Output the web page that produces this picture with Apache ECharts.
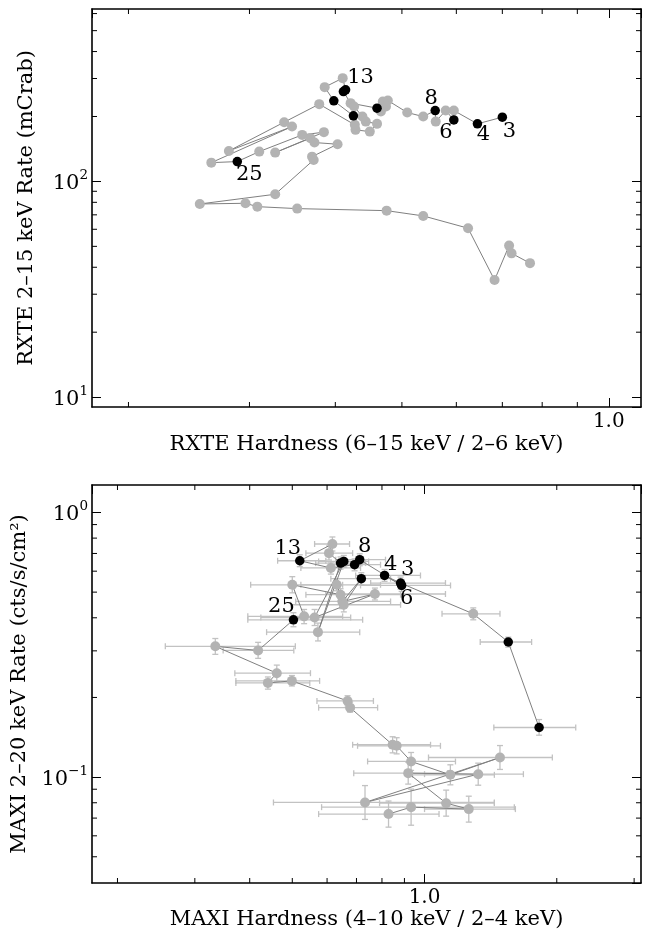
<!DOCTYPE html>
<html><head><meta charset="utf-8">
<script src="https://cdn.jsdelivr.net/npm/echarts@6/dist/echarts.min.js"></script>
<style>html,body{margin:0;padding:0;background:#fff}#c{width:645px;height:932px}</style>
</head><body><div id="c"></div>
<script>
// ---------- RXTE panel (top) ----------
const rxteHardness = [0.700,0.644,0.595,0.595,0.579,0.560,0.559,0.537,0.509,0.477,0.469,0.474,0.466,0.460,0.421,0.411,0.414,0.410,0.386,0.398,0.425,0.426,0.438,0.443,0.460,0.449,0.428,0.427,0.379,0.337,0.280,0.346,0.264,0.288,0.310,0.358,0.385,0.327,0.368,0.373,0.403,0.370,0.372,0.327,0.254,0.296,0.308,0.352,0.475,0.537,0.624,0.682,0.716,0.722,0.768];
const rxteRate = [198.6,184.9,213.1,192.9,213.1,189.4,213.1,199.8,208.6,237.2,234.6,222.4,210.8,218.6,230.6,261.0,265.8,301.2,273.6,236.4,201.4,222.4,199.8,189.4,184.9,170.2,173.4,182.9,228.2,188.2,138.5,179.6,122.2,123.6,137.5,164.3,169.2,136.0,158.7,151.4,148.8,130.3,125.8,87.2,78.6,79.2,76.4,74.8,73.2,69.2,60.7,34.9,50.4,46.4,41.8];
const rxteHighlighted = [0,1,3,6,13,15,16,19,20,33];
const rxteObsLabels = {0:'3',1:'4',3:'6',6:'8',16:'13',33:'25'};
const rxteXMinorTicks = [0.2,0.3,0.4,0.5,0.6,0.7,0.8,0.9];
const rxteYMinorTicks = [20,30,40,50,60,70,80,90,200,300,400,500,600];

// ---------- MAXI panel (bottom) ----------
const maxiHardness = [1.823,1.551,1.291,0.882,0.811,0.887,0.712,0.693,0.612,0.520,0.617,0.606,0.644,0.572,0.655,0.562,0.771,0.650,0.718,0.655,0.631,0.644,0.500,0.532,0.503,0.418,0.334,0.461,0.440,0.499,0.668,0.677,0.846,0.864,0.932,1.145,1.485,0.732,1.325,0.918,1.120,1.261,0.932,0.828];
const maxiHardLo = [1.438,1.339,1.096,0.754,0.697,0.715,0.628,0.612,0.523,0.463,0.562,0.537,0.565,0.437,0.574,0.424,0.596,0.509,0.612,0.496,0.523,0.537,0.402,0.396,0.396,0.348,0.257,0.370,0.372,0.372,0.569,0.574,0.686,0.704,0.742,0.939,1.021,0.453,1.000,0.690,0.790,1.000,0.583,0.574];
const maxiHardHi = [2.209,1.753,1.485,1.116,0.979,1.146,0.815,0.794,0.715,0.596,0.675,0.686,0.734,0.712,0.746,0.679,1.116,0.837,0.837,0.882,0.794,0.882,0.651,0.651,0.723,0.504,0.508,0.550,0.548,0.577,0.765,0.782,1.032,1.087,1.176,1.442,1.954,1.442,1.679,1.128,1.442,1.610,1.601,1.079];
const maxiRate = [0.154,0.324,0.414,0.541,0.578,0.530,0.663,0.635,0.617,0.657,0.760,0.702,0.644,0.353,0.653,0.401,0.492,0.461,0.562,0.448,0.533,0.489,0.533,0.405,0.393,0.301,0.312,0.247,0.227,0.231,0.194,0.183,0.1325,0.1313,0.1146,0.1020,0.1186,0.0802,0.1026,0.1035,0.0797,0.0757,0.0770,0.0725];
const maxiRateLo = [0.144,0.310,0.393,0.513,0.549,0.503,0.629,0.602,0.585,0.624,0.715,0.661,0.611,0.327,0.620,0.374,0.467,0.433,0.533,0.421,0.506,0.464,0.497,0.380,0.370,0.281,0.291,0.230,0.215,0.221,0.186,0.176,0.1235,0.1224,0.1060,0.0935,0.1069,0.0692,0.0932,0.0941,0.0712,0.0676,0.0658,0.0647];
const maxiRateHi = [0.165,0.338,0.436,0.570,0.609,0.558,0.698,0.668,0.650,0.692,0.808,0.747,0.679,0.382,0.688,0.430,0.518,0.490,0.592,0.476,0.562,0.515,0.572,0.430,0.418,0.323,0.334,0.265,0.239,0.242,0.203,0.192,0.1421,0.1409,0.1239,0.1113,0.1316,0.0929,0.1129,0.1139,0.0893,0.0847,0.0901,0.0812];
const maxiHighlighted = [0,1,3,4,5,6,7,9,12,14,18,24];
const maxiObsLabels = {3:'3',4:'4',5:'6',6:'8',9:'13',24:'25'};
const maxiXMinorTicks = [0.2,0.3,0.4,0.5,0.6,0.7,0.8,0.9,2,3];
const maxiYMinorTicks = [0.05,0.06,0.07,0.08,0.09,0.2,0.3,0.4,0.5,0.6,0.7,0.8,0.9];

// axis ranges
const rxteX = [0.177, 1.114], rxteY = [9.0, 630];
const maxiX = [0.175, 3.11], maxiY = [0.0398, 1.27];

// ---------- styling / layout ----------
const FONT = 'DejaVu Serif';
const labelOffsetTop = {'3':[7,14],'4':[6,11],'6':[-8,13],'8':[-4,-12],'13':[15,-12],'25':[12,13]};
const labelOffsetBot = {'13':[-12,-12],'8':[5,-13],'4':[6,-11],'3':[7,-14],'6':[5,13],'25':[-12,-13]};

function powLabel(v){
  const lg = Math.log10(v), e = Math.round(lg);
  if (Math.abs(lg - e) > 1e-6) return '';
  return '{b|10}{s|' + (e < 0 ? '\u2212' + (-e) : e) + '}';
}
const powRich = {
  b:{fontFamily:FONT,fontSize:21,color:'#000',lineHeight:25,verticalAlign:'bottom'},
  s:{fontFamily:FONT,fontSize:13.5,color:'#000',lineHeight:10,verticalAlign:'top'}
};
const axLine = {show:true,onZero:false,lineStyle:{color:'#000',width:1.6}};
const majTick = {show:true,inside:true,length:9,lineStyle:{color:'#000',width:1}};

function xAxes(gi, ext, name, gap){
  return [
    {type:'log',logBase:10,gridIndex:gi,position:'bottom',min:ext[0],max:ext[1],
     axisLine:axLine,axisTick:majTick,splitLine:{show:false},
     axisLabel:{margin:5,color:'#000',fontFamily:FONT,fontSize:20,showMinLabel:false,showMaxLabel:false,
       formatter:v=>Math.abs(v-1)<1e-6?'1.0':''},
     name:name,nameLocation:'middle',nameGap:gap,
     nameTextStyle:{fontFamily:FONT,fontSize:21,color:'#000'}},
    {type:'log',logBase:10,gridIndex:gi,position:'top',min:ext[0],max:ext[1],
     axisLine:axLine,axisTick:majTick,axisLabel:{show:false},splitLine:{show:false}}
  ];
}
function yAxes(gi, ext, name, gap){
  return [
    {type:'log',logBase:10,gridIndex:gi,position:'left',min:ext[0],max:ext[1],
     axisLine:axLine,axisTick:majTick,splitLine:{show:false},
     axisLabel:{margin:4,formatter:powLabel,rich:powRich,showMinLabel:false,showMaxLabel:false},
     name:name,nameLocation:'middle',nameGap:gap,
     nameTextStyle:{fontFamily:FONT,fontSize:21,color:'#000'}},
    {type:'log',logBase:10,gridIndex:gi,position:'right',min:ext[0],max:ext[1],
     axisLine:axLine,axisTick:majTick,axisLabel:{show:false},splitLine:{show:false}}
  ];
}
function minorTicks(gi, vals, isX, other, len){
  return {type:'custom',xAxisIndex:gi*2,yAxisIndex:gi*2,silent:true,z:6,clip:false,
    data:vals.map(v=>isX?[v,other[0]]:[other[0],v]),
    renderItem:function(p,api){
      const v = api.value(isX?0:1);
      const a = api.coord(isX?[v,other[0]]:[other[0],v]);
      const b = api.coord(isX?[v,other[1]]:[other[1],v]);
      const st = {stroke:'#000',lineWidth:1};
      return {type:'group',children:isX?[
        {type:'line',shape:{x1:a[0],y1:a[1],x2:a[0],y2:a[1]-len},style:st},
        {type:'line',shape:{x1:b[0],y1:b[1],x2:b[0],y2:b[1]+len},style:st}
      ]:[
        {type:'line',shape:{x1:a[0],y1:a[1],x2:a[0]+len,y2:a[1]},style:st},
        {type:'line',shape:{x1:b[0],y1:b[1],x2:b[0]-len,y2:b[1]},style:st}
      ]};
    }};
}
function pathSeries(gi, xs, ys, hl, labels, offs){
  const pts = xs.map((x,i)=>[x,ys[i]]);
  const grey = pts.filter((p,i)=>hl.indexOf(i)<0);
  const black = hl.map(i=>{
    const item = {value:pts[i]};
    if (labels[i]) item.label = {show:true,formatter:labels[i],position:'inside',offset:offs[labels[i]],
      color:'#000',opacity:1,fontFamily:FONT,fontSize:21};
    return item;
  });
  return [
    {type:'line',xAxisIndex:gi*2,yAxisIndex:gi*2,data:pts,symbol:'none',z:3,
     lineStyle:{color:'#808080',width:1,opacity:1},silent:true},
    {type:'scatter',xAxisIndex:gi*2,yAxisIndex:gi*2,data:grey,symbolSize:10,z:4,
     itemStyle:{color:'#b3b3b3',opacity:1},silent:true},
    {type:'scatter',xAxisIndex:gi*2,yAxisIndex:gi*2,data:black,symbolSize:9.5,z:5,
     itemStyle:{color:'#000',opacity:1},silent:true,label:{show:false}}
  ];
}
const errData = maxiHardness.map((x,i)=>[x,maxiRate[i],maxiHardLo[i],maxiHardHi[i],maxiRateLo[i],maxiRateHi[i]]);
const errSeries = {type:'custom',xAxisIndex:2,yAxisIndex:2,z:2,silent:true,
  dimensions:['x','y','xl','xh','yl','yh'],encode:{x:0,y:1},data:errData,
  renderItem:function(p,api){
    const x=api.value(0),y=api.value(1);
    const L=api.coord([api.value(2),y]),H=api.coord([api.value(3),y]);
    const B=api.coord([x,api.value(4)]),T=api.coord([x,api.value(5)]);
    const st={stroke:'#c2c2c2',lineWidth:1.3}, c=3;
    return {type:'group',children:[
      {type:'line',shape:{x1:L[0],y1:L[1],x2:H[0],y2:H[1]},style:st},
      {type:'line',shape:{x1:L[0],y1:L[1]-c,x2:L[0],y2:L[1]+c},style:st},
      {type:'line',shape:{x1:H[0],y1:H[1]-c,x2:H[0],y2:H[1]+c},style:st},
      {type:'line',shape:{x1:B[0],y1:B[1],x2:T[0],y2:T[1]},style:st},
      {type:'line',shape:{x1:B[0]-c,y1:B[1],x2:B[0]+c,y2:B[1]},style:st},
      {type:'line',shape:{x1:T[0]-c,y1:T[1],x2:T[0]+c,y2:T[1]},style:st}
    ]};
  }};

const chart = echarts.init(document.getElementById('c'),null,{renderer:'canvas'});
chart.setOption({
  animation:false,
  backgroundColor:'#fff',
  grid:[
    {left:92,top:9,width:549,height:398,outerBoundsMode:'none',containLabel:false},
    {left:92,top:485,width:549,height:398,outerBoundsMode:'none',containLabel:false}
  ],
  xAxis:[].concat(
    xAxes(0,rxteX,'RXTE Hardness (6\u201315 keV / 2\u20136 keV)',27),
    xAxes(1,maxiX,'MAXI Hardness (4\u201310 keV / 2\u20134 keV)',25)),
  yAxis:[].concat(
    yAxes(0,rxteY,'RXTE 2\u201315 keV Rate (mCrab)',55),
    yAxes(1,maxiY,'MAXI 2\u201320 keV Rate (cts/s/cm\u00b2)',55)),
  series:[].concat(
    pathSeries(0,rxteHardness,rxteRate,rxteHighlighted,rxteObsLabels,labelOffsetTop),
    [errSeries],
    pathSeries(1,maxiHardness,maxiRate,maxiHighlighted,maxiObsLabels,labelOffsetBot),
    [minorTicks(0,rxteXMinorTicks,true,rxteY,5),
     minorTicks(0,rxteYMinorTicks,false,rxteX,5),
     minorTicks(1,maxiXMinorTicks,true,maxiY,5),
     minorTicks(1,maxiYMinorTicks,false,maxiX,5)])
});
</script></body></html>
